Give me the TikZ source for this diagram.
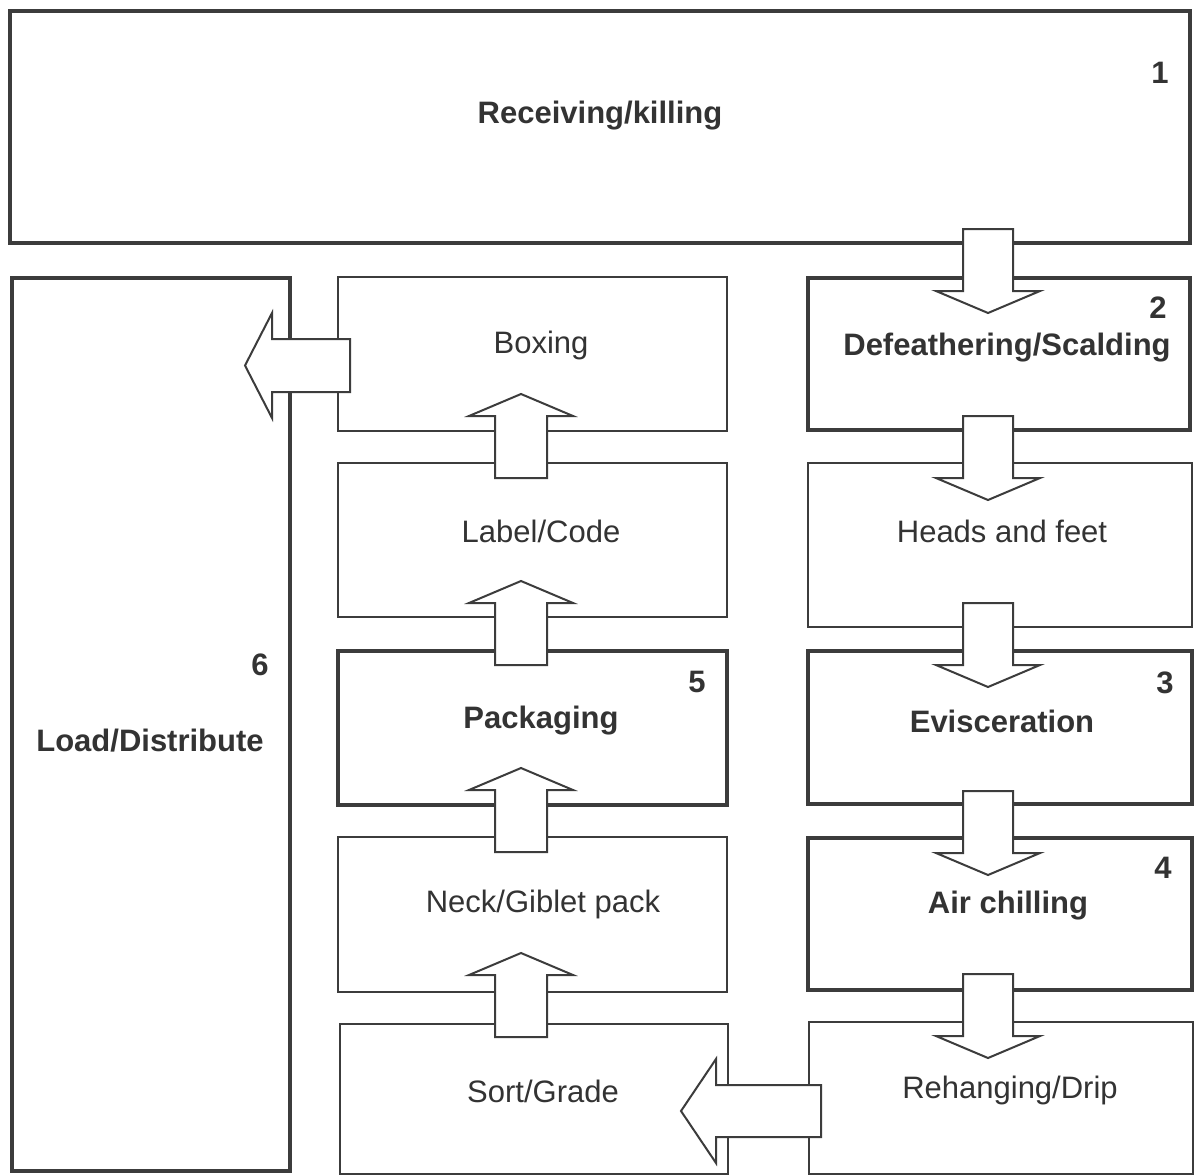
\documentclass[tikz,border=0pt]{standalone}
\usepackage{fontspec}
\setmainfont{Liberation Sans}
\begin{document}
\begin{tikzpicture}[x=1pt,y=-1pt,
  thickbox/.style={draw=lc, line width=4.5pt, fill=white, inner sep=0pt},
  thinbox/.style={draw=lc, line width=2pt, fill=white, inner sep=0pt},
  stepname/.style={text=tc, font=\fontsize{31}{37}\selectfont\bfseries, inner sep=0pt, yshift=-3pt},
  subname/.style={text=tc, font=\fontsize{31}{37}\selectfont, inner sep=0pt, yshift=-3pt},
  stepnum/.style={text=tc, font=\fontsize{31}{37}\selectfont\bfseries, inner sep=0pt},
  blk/.style={draw=lc, line width=2pt, fill=white, line join=miter},
  darr/.pic={\draw[blk] (-25,0) -- (25,0) -- (25,62) -- (52,62) -- (0,84) -- (-52,62) -- (-25,62) -- cycle;},
  uarr/.pic={\draw[blk] (-26,0) -- (26,0) -- (26,-62) -- (52,-62) -- (0,-84) -- (-52,-62) -- (-26,-62) -- cycle;}
]
\definecolor{lc}{HTML}{3C3C3C}
\definecolor{tc}{HTML}{333333}
\useasboundingbox[fill=white] (0,0) rectangle (1198,1175);

% boxes
\node[thickbox, minimum width=1180pt, minimum height=232pt] (r1) at (600,127) {};
\node[thickbox, minimum width=278pt, minimum height=893pt] (load) at (151,724.5) {};
\node[thinbox, minimum width=389pt, minimum height=154pt] (boxing) at (532.5,354) {};
\node[thinbox, minimum width=389pt, minimum height=154pt] (label) at (532.5,540) {};
\node[thickbox, minimum width=389pt, minimum height=154pt] (pack) at (532.5,728) {};
\node[thinbox, minimum width=389pt, minimum height=155pt] (neck) at (532.5,914.5) {};
\node[thinbox, minimum width=388pt, minimum height=150pt] (sort) at (534,1099) {};
\node[thickbox, minimum width=382pt, minimum height=152pt] (defeath) at (999,354) {};
\node[thinbox, minimum width=384pt, minimum height=164pt] (heads) at (1000,545) {};
\node[thickbox, minimum width=384pt, minimum height=153pt] (evisc) at (1000,727.5) {};
\node[thickbox, minimum width=384pt, minimum height=152pt] (air) at (1000,914) {};
\node[thinbox, minimum width=384pt, minimum height=152pt] (rehang) at (1001,1098) {};

% texts
\node[stepname] (t1) at (600,113) {Receiving/killing};
\node[stepnum] (n1) at (1160,73) {1};
\node[stepname] (t2) at (1007,345) {Defeathering/Scalding};
\node[stepnum] (n2) at (1158,308) {2};
\node[subname] (tb) at (541,342) {Boxing};
\node[subname] (tl) at (541,528) {Label/Code};
\node[subname] (th) at (1002,528) {Heads and feet};
\node[stepnum] (n6) at (260,665) {6};
\node[stepname] (t6) at (150,738) {Load/Distribute};
\node[stepname] (t5) at (541,718) {Packaging};
\node[stepnum] (n5) at (697,682) {5};
\node[stepname] (t3) at (1002,718) {Evisceration};
\node[stepnum] (n3) at (1165,683) {3};
\node[subname] (tn) at (543,901) {Neck/Giblet pack};
\node[stepname] (t4) at (1008,903) {Air chilling};
\node[stepnum] (n4) at (1163,868) {4};
\node[subname] (ts) at (543,1088) {Sort/Grade};
\node[subname] (trh) at (1010,1087) {Rehanging/Drip};

% down arrows (right column)
\pic at (988,229) {darr};
\pic at (988,416) {darr};
\pic at (988,603) {darr};
\pic at (988,791) {darr};
\pic at (988,974) {darr};

% up arrows (middle column)
\pic at (521,478) {uarr};
\pic at (521,665) {uarr};
\pic at (521,852) {uarr};
\pic at (521,1037) {uarr};

% left arrows
\draw[blk] (350,339) -- (350,392) -- (272,392) -- (272,418) -- (245,365.5) -- (272,313) -- (272,339) -- cycle;
\draw[blk] (821,1085) -- (821,1137) -- (716,1137) -- (716,1163) -- (681,1111) -- (716,1059) -- (716,1085) -- cycle;
\end{tikzpicture}
\end{document}
